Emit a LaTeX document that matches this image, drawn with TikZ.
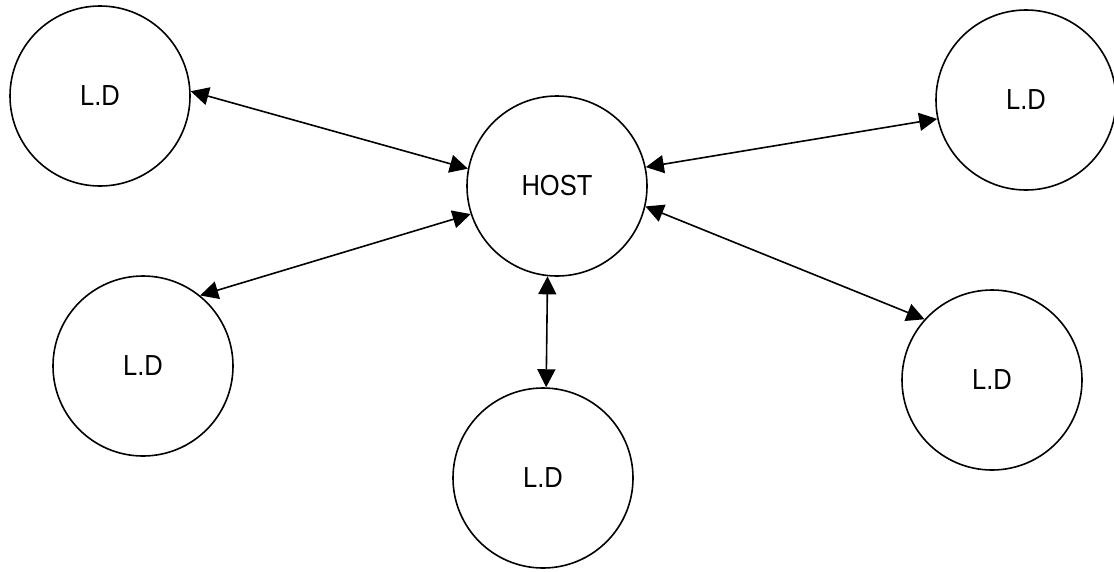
\documentclass[tikz,border=0pt]{standalone}
\usepackage{fontspec}
\setmainfont{Liberation Sans}[FakeStretch=0.88]
\usetikzlibrary{arrows.meta}
\begin{document}
\begin{tikzpicture}[x=1pt,y=-1pt,
  dev/.style={circle,draw,line width=1.6pt,minimum size=180pt,inner sep=0pt,font=\fontsize{29}{29}\selectfont},
  link/.style={line width=1.6pt,{Triangle[length=18pt,width=18pt]}-{Triangle[length=18pt,width=18pt]}}]
\useasboundingbox (0,0) rectangle (1114,571);
\node[dev] (host) at (557,186) {HOST};
\node[dev] (tl) at (100,96) {L.D};
\node[dev] (tr) at (1026,100) {L.D};
\node[dev] (ml) at (143,366) {L.D};
\node[dev] (bm) at (543,478) {L.D};
\node[dev] (rt) at (992,380) {L.D};
\draw[link] (tl.3) -- (host.169);
\draw[link] (host.12) -- (tr.192);
\draw[link] (host.198) -- (ml.51);
\draw[link] (host.264) -- (bm.88);
\draw[link] (host.347) -- (rt.138);
\end{tikzpicture}
\end{document}
